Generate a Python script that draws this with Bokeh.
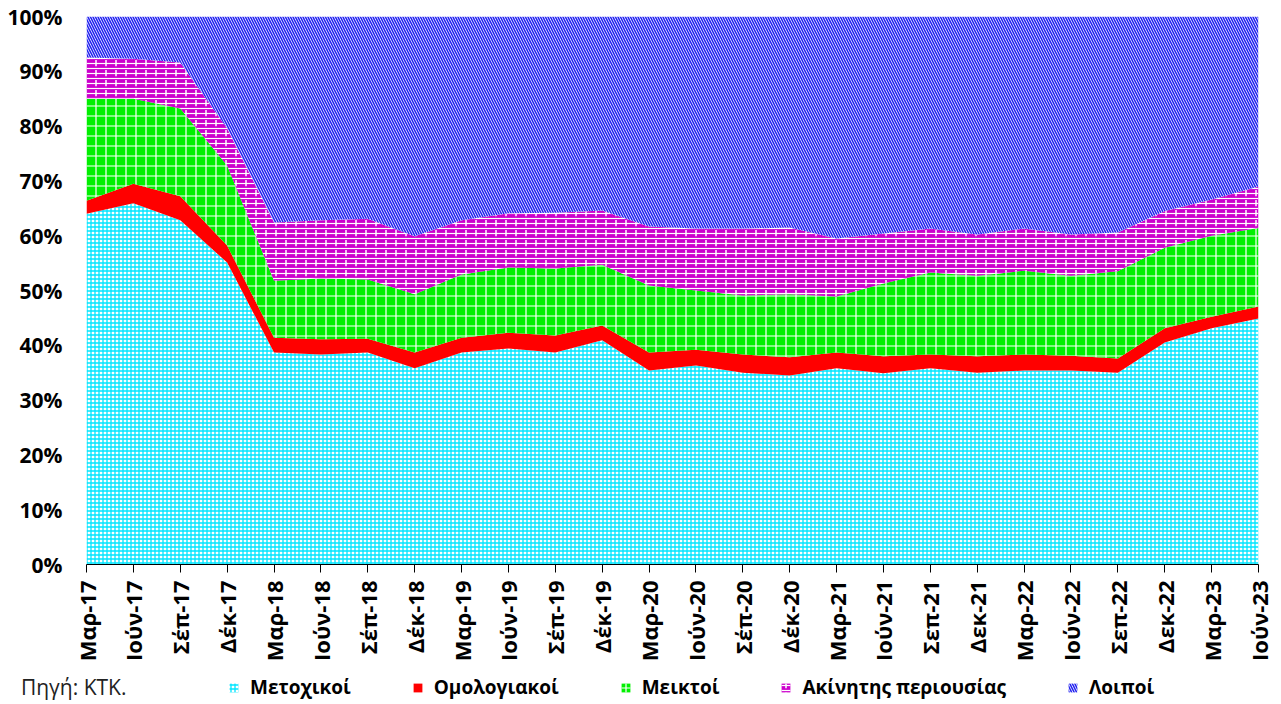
from bokeh.plotting import figure
from bokeh.models import FixedTicker, Legend, LegendItem, Range1d
from bokeh.layouts import column
from bokeh.embed import file_html
from bokeh.resources import INLINE
import numpy as np

categories = ["Μαρ-17", "Ιούν-17", "Σέπ-17", "Δέκ-17", "Μαρ-18", "Ιούν-18", "Σέπ-18", "Δέκ-18",
              "Μαρ-19", "Ιούν-19", "Σέπ-19", "Δέκ-19", "Μαρ-20", "Ιούν-20", "Σέπ-20", "Δέκ-20",
              "Μαρ-21", "Ιούν-21", "Σεπ-21", "Δεκ-21", "Μαρ-22", "Ιούν-22", "Σεπ-22", "Δεκ-22",
              "Μαρ-23", "Ιούν-23"]
metochikoi = [64.0, 65.9, 62.8, 55.1, 38.7, 38.3, 38.7, 35.8, 38.7, 39.4, 38.7, 40.9, 35.4,
              36.3, 35.0, 34.5, 35.8, 34.9, 35.8, 35.0, 35.4, 35.4, 35.0, 40.5, 43.1, 44.9]
omologiakoi = [2.4, 3.6, 4.4, 3.1, 2.7, 2.8, 2.5, 2.9, 2.7, 2.9, 3.1, 2.7, 3.3,
               2.9, 3.3, 3.3, 2.9, 3.1, 2.5, 3.0, 2.9, 2.7, 2.6, 2.6, 2.1, 2.2]
meiktoi = [18.6, 15.5, 16.0, 14.6, 10.4, 11.1, 10.8, 10.6, 11.5, 11.9, 12.2, 11.1, 12.2,
           10.8, 10.8, 11.5, 10.2, 13.3, 15.0, 14.7, 15.3, 14.6, 15.9, 14.7, 14.8, 14.3]
akinitis = [7.5, 7.3, 8.4, 6.8, 10.6, 10.6, 11.1, 10.6, 9.9, 9.9, 10.2, 9.9, 10.8,
            11.3, 12.2, 12.2, 10.6, 9.1, 8.0, 7.5, 7.7, 7.5, 7.1, 6.7, 6.6, 7.6]
loipoi = [100 - a - b - c - d for a, b, c, d in zip(metochikoi, omologiakoi, meiktoi, akinitis)]
series_names = ["Μετοχικοί", "Ομολογιακοί", "Μεικτοί", "Ακίνητης περιουσίας", "Λοιποί"]
y_ticks = list(range(0, 101, 10))
source_note = "Πηγή: ΚΤΚ."

x = np.arange(len(categories))
stack = np.vstack([metochikoi, omologiakoi, meiktoi, akinitis, loipoi])
cum = np.vstack([np.zeros(len(categories)), np.cumsum(stack, axis=0)])

FONT = "Open Sans"

styles = [
    [dict(fill_color="white", hatch_pattern="cross", hatch_color="#00E5FF", hatch_scale=4, hatch_weight=1.3)],
    [dict(fill_color="#FF0000")],
    [dict(fill_color="#00F000", hatch_pattern="cross", hatch_color="white", hatch_scale=10, hatch_weight=1.2)],
    [dict(fill_color="#CC00CC", hatch_pattern="horizontal_line", hatch_color="white", hatch_scale=5, hatch_weight=1.2),
     dict(fill_alpha=0, hatch_pattern="vertical_dash", hatch_color="white", hatch_scale=10, hatch_weight=1.5)],
    [dict(fill_color="white", hatch_pattern="left_diagonal_line", hatch_color="#2424F0", hatch_scale=5, hatch_weight=1.6)],
]

p = figure(width=1273, height=674, output_backend="svg", toolbar_location=None,
           x_range=Range1d(0, len(categories) - 1), y_range=Range1d(0, 100),
           min_border_left=86, min_border_right=15, min_border_top=16, min_border_bottom=110)
p.outline_line_color = None
p.grid.visible = False

for i, name in enumerate(series_names):
    for st in styles[i]:
        p.varea(x=x, y1=cum[i], y2=cum[i + 1], **st)

p.xaxis.ticker = FixedTicker(ticks=list(x))
p.xaxis.major_label_overrides = {int(i): c for i, c in zip(x, categories)}
p.xaxis.major_label_orientation = np.pi / 2
p.xaxis.major_tick_out = 8
p.xaxis.major_tick_in = 0
p.xaxis.minor_tick_line_color = None
p.xaxis.axis_line_color = "black"
p.xaxis.major_tick_line_color = "black"
p.xaxis.major_label_text_font = FONT
p.xaxis.major_label_text_font_style = "bold"
p.xaxis.major_label_text_font_size = "22px"
p.xaxis.major_label_text_color = "black"
p.xaxis.major_label_standoff = 8

p.yaxis.ticker = FixedTicker(ticks=y_ticks)
p.yaxis.major_label_overrides = {t: f"{t}%" for t in y_ticks}
p.yaxis.axis_line_color = None
p.yaxis.major_tick_line_color = None
p.yaxis.minor_tick_line_color = None
p.yaxis.major_label_text_font = FONT
p.yaxis.major_label_text_font_style = "bold"
p.yaxis.major_label_text_font_size = "21px"
p.yaxis.major_label_text_color = "black"
p.yaxis.major_label_standoff = 18

# legend strip (its left axis carries the source note)
q = figure(width=1273, height=30, output_backend="svg", toolbar_location=None,
           x_range=Range1d(0, 100), y_range=Range1d(0, 30),
           x_axis_location=None, y_axis_location="left", min_border=0)
q.outline_line_color = None
q.grid.visible = False
q.yaxis.ticker = FixedTicker(ticks=[10])
q.yaxis.major_label_overrides = {10: source_note}
q.yaxis.axis_line_color = None
q.yaxis.major_tick_line_color = None
q.yaxis.minor_tick_line_color = None
q.yaxis.major_tick_out = 0
q.yaxis.major_tick_in = 0
q.yaxis.major_label_text_font = FONT
q.yaxis.major_label_text_font_size = "21px"
q.yaxis.major_label_text_color = "#222222"
q.yaxis.major_label_standoff = -40

items = []
for i, name in enumerate(series_names):
    rs = [q.varea(x=[-10, -5], y1=[0, 0], y2=[1, 1], **st) for st in styles[i]]
    items.append(LegendItem(label=name, renderers=rs))
legend = Legend(items=items, orientation="horizontal", location=(142, 4),
                label_text_font=FONT, label_text_font_style="bold", label_text_font_size="19px",
                label_text_color="black", glyph_width=11, glyph_height=11, spacing=61,
                border_line_color=None, background_fill_alpha=0, margin=0, padding=0,
                label_standoff=11)
q.add_layout(legend, "center")

layout = column(p, q, spacing=0)
open("out.html", "w").write(file_html(layout, INLINE))
